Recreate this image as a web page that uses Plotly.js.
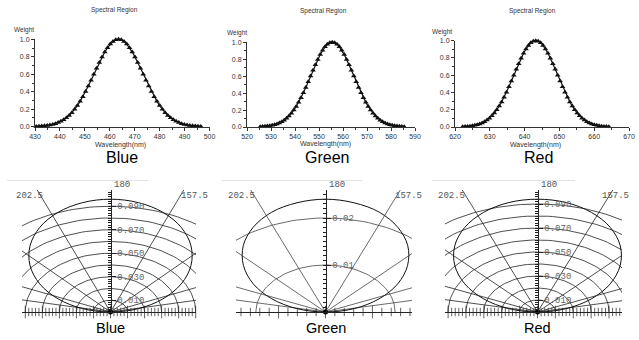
<!DOCTYPE html>
<html><head><meta charset="utf-8">
<script src="https://cdn.plot.ly/plotly-3.0.1.min.js"></script>
<style>html,body{margin:0;padding:0;background:#fff}#chart{width:639px;height:340px}</style>
</head><body><div id="chart"></div>
<script>
// ---------- Spectral region data (wavelength nm, weight) ----------
const blueWavelength = [430.5,431.6,432.7,433.8,434.9,436.0,437.1,438.2,439.3,440.4,441.5,442.6,443.7,444.8,445.9,447.0,448.1,449.2,450.3,451.4,452.5,453.6,454.7,455.8,456.9,458.0,459.1,460.2,461.3,462.4,463.5,464.6,465.7,466.8,467.9,469.0,470.1,471.2,472.3,473.4,474.5,475.6,476.7,477.8,478.9,480.0,481.1,482.2,483.3,484.4,485.5,486.6,487.7,488.8,489.9,491.0,492.1,493.2,494.3,495.4,496.5];
const blueWeight = [0.003,0.005,0.007,0.010,0.014,0.019,0.026,0.035,0.047,0.062,0.080,0.102,0.129,0.161,0.199,0.242,0.290,0.344,0.403,0.466,0.532,0.600,0.668,0.734,0.797,0.854,0.904,0.945,0.975,0.994,1.000,0.994,0.975,0.945,0.904,0.854,0.797,0.734,0.668,0.600,0.532,0.466,0.403,0.344,0.290,0.242,0.199,0.161,0.129,0.102,0.080,0.062,0.047,0.035,0.026,0.019,0.014,0.010,0.007,0.005,0.003];
const greenWavelength = [525.5,526.5,527.5,528.5,529.5,530.5,531.5,532.5,533.5,534.5,535.5,536.5,537.5,538.5,539.5,540.5,541.5,542.5,543.5,544.5,545.5,546.5,547.5,548.5,549.5,550.5,551.5,552.5,553.5,554.5,555.5,556.5,557.5,558.5,559.5,560.5,561.5,562.5,563.5,564.5,565.5,566.5,567.5,568.5,569.5,570.5,571.5,572.5,573.5,574.5,575.5,576.5,577.5,578.5,579.5,580.5,581.5,582.5,583.5,584.5,585.5];
const greenWeight = [0.004,0.005,0.008,0.011,0.015,0.020,0.027,0.036,0.048,0.063,0.081,0.103,0.130,0.162,0.200,0.243,0.291,0.345,0.404,0.467,0.533,0.601,0.669,0.735,0.798,0.855,0.905,0.946,0.976,0.995,1.000,0.995,0.976,0.946,0.905,0.855,0.798,0.735,0.669,0.601,0.533,0.467,0.404,0.345,0.291,0.243,0.200,0.162,0.130,0.103,0.081,0.063,0.048,0.036,0.027,0.020,0.015,0.011,0.008,0.005,0.004];
const redWavelength = [622.2,622.9,623.6,624.3,625.0,625.7,626.4,627.1,627.8,628.5,629.2,629.9,630.6,631.3,632.0,632.7,633.4,634.1,634.8,635.5,636.2,636.9,637.6,638.3,639.0,639.7,640.4,641.1,641.8,642.5,643.2,643.9,644.6,645.3,646.0,646.7,647.4,648.1,648.8,649.5,650.2,650.9,651.6,652.3,653.0,653.7,654.4,655.1,655.8,656.5,657.2,657.9,658.6,659.3,660.0,660.7,661.4,662.1,662.8,663.5,664.2];
const redWeight = [0.003,0.005,0.007,0.010,0.014,0.019,0.026,0.035,0.047,0.062,0.080,0.102,0.129,0.161,0.199,0.242,0.290,0.344,0.403,0.466,0.532,0.600,0.668,0.734,0.797,0.854,0.904,0.945,0.975,0.994,1.000,0.994,0.975,0.945,0.904,0.854,0.797,0.734,0.668,0.600,0.532,0.466,0.403,0.344,0.290,0.242,0.199,0.161,0.129,0.102,0.080,0.062,0.047,0.035,0.026,0.019,0.014,0.010,0.007,0.005,0.003];
const blueRange = [430, 500];
const greenRange = [520, 590];
const redRange = [620, 670];

// ---------- Angular distribution data (angle deg, intensity) ----------
const polarAngles = [90,100,110,120,130,140,150,160,170,180,190,200,210,220,230,240,250,260,270];
const blueIntensity = [0,0.0167,0.0328,0.048,0.0617,0.0735,0.0831,0.0902,0.0945,0.096,0.0945,0.0902,0.0831,0.0735,0.0617,0.048,0.0328,0.0167,0];
const greenIntensity = [0,0.0042,0.0082,0.012,0.0154,0.0184,0.0208,0.0226,0.0236,0.024,0.0236,0.0226,0.0208,0.0184,0.0154,0.012,0.0082,0.0042,0];
const redIntensity = [0,0.0163,0.0321,0.047,0.0604,0.0720,0.0814,0.0883,0.0926,0.094,0.0926,0.0883,0.0814,0.0720,0.0604,0.047,0.0321,0.0163,0];
const blueGridRadii = [0.01,0.02,0.03,0.04,0.05,0.06,0.07,0.08,0.09];
const greenGridRadii = [0.01,0.02];
const redGridRadii = [0.01,0.02,0.03,0.04,0.05,0.06,0.07,0.08,0.09];
const blueRadialTicks = [0.010,0.030,0.050,0.070,0.090];
const greenRadialTicks = [0.01,0.02];
const redRadialTicks = [0.010,0.030,0.050,0.070,0.090];
const spokeAngles = [101.25,112.5,135,157.5,202.5,225,247.5,258.75];
const angleLabels = ['202.5','180','157.5'];
const panelNames = ['Blue','Green','Red'];

// ---------- drawing ----------
const W = 639, H = 340;
const fx = p => p / W;
const fy = p => 1 - p / H;
const sans = 'Liberation Sans, Arial, sans-serif';
const mono = 'Liberation Mono, Courier New, monospace';
const data = [];
const layout = {width:W, height:H, margin:{l:0,r:0,t:0,b:0}, paper_bgcolor:'#fff', plot_bgcolor:'rgba(0,0,0,0)',
  showlegend:false, annotations:[], shapes:[]};

function note(text, x, y, size, family, color, xanchor) {
  layout.annotations.push({text:text, x:fx(x), y:fy(y), xref:'paper', yref:'paper', showarrow:false,
    xanchor:xanchor||'center', yanchor:'middle', font:{size:size, family:family, color:color}});
}

function addSpectrum(n, xs, ys, xr, cfg, name) {
  const sx = n === 1 ? '' : String(n);
  data.push({type:'scatter', x:xs, y:ys, xaxis:'x'+sx, yaxis:'y'+sx, mode:'lines+markers',
    line:{color:'#111', width:1.2}, marker:{symbol:'triangle-up', size:5, color:'#111'}, cliponaxis:false, hoverinfo:'skip'});
  const tf = {family:sans, size:7, color:'#333'};
  layout['xaxis'+sx] = {domain:[fx(cfg.l), fx(cfg.r)], range:xr, anchor:'y'+sx, tickmode:'linear', tick0:xr[0], dtick:10,
    ticks:'outside', ticklen:3, tickcolor:'#333', minor:{tickmode:'linear', tick0:xr[0], dtick:5, ticks:'outside', ticklen:2, tickcolor:'#333'},
    showline:true, linecolor:'#333', linewidth:1, showgrid:false, zeroline:false, tickfont:tf, fixedrange:true};
  layout['yaxis'+sx] = {domain:[fy(cfg.b), fy(cfg.t)], range:[0,1], anchor:'x'+sx, tickmode:'linear', tick0:0, dtick:0.2, tickformat:'.1f',
    ticks:'outside', ticklen:3, tickcolor:'#333', minor:{tickmode:'linear', tick0:0, dtick:0.1, ticks:'outside', ticklen:2, tickcolor:'#333'},
    showline:true, linecolor:'#333', linewidth:1, showgrid:false, zeroline:false, tickfont:tf, fixedrange:true};
  note('Spectral Region', cfg.title[0], cfg.title[1], 6.5, sans, '#333');
  note('Weight', cfg.weight[0], cfg.weight[1], 6.5, sans, '#333');
  note('Wavelength(nm)', cfg.wl[0], cfg.wl[1], 7, sans, '#333');
  note(name, cfg.name[0], cfg.name[1], 16, sans, '#000');
}

const OY = 312, TOP = 190;
function toXY(r, a) { const p = (a - 180) * Math.PI / 180; return [-r * Math.sin(p), r * Math.cos(p)]; }

function addPolar(n, angles, intensity, gridR, tickVals, tickFmt, minorStep, crossStep, cfg, name) {
  const xa = 'x'+n, ya = 'y'+n;
  const kx = cfg.ky * cfg.s;
  const xr = [(cfg.L - cfg.ox) / kx, (cfg.R - cfg.ox) / kx];
  const yTop = (OY - TOP) / cfg.ky;
  // grid arcs
  const gx = [], gy = [];
  gridR.forEach(r => { for (let a = 90; a <= 270; a += 2) { const p = toXY(r, a); gx.push(p[0]); gy.push(p[1]); } gx.push(null); gy.push(null); });
  data.push({type:'scatter', x:gx, y:gy, xaxis:xa, yaxis:ya, mode:'lines', line:{color:cfg.grid, width:0.8}, hoverinfo:'skip'});
  // spokes
  const sx = [], sy = [];
  spokeAngles.forEach(a => { const p = toXY(1, a); sx.push(0, p[0], null); sy.push(0, p[1], null); });
  data.push({type:'scatter', x:sx, y:sy, xaxis:xa, yaxis:ya, mode:'lines', line:{color:cfg.grid, width:0.8}, hoverinfo:'skip'});
  // intensity curve
  const ix = [], iy = [];
  angles.forEach((a, j) => { const p = toXY(intensity[j], a); ix.push(p[0]); iy.push(p[1]); });
  data.push({type:'scatter', x:ix, y:iy, xaxis:xa, yaxis:ya, mode:'lines', line:{color:'#111', width:1, shape:'spline'}, hoverinfo:'skip'});
  // baseline tick crosses
  const tx = [], ts = [];
  const kmax = Math.floor(Math.max(-xr[0], xr[1]) / crossStep + 1e-9);
  for (let k = -kmax; k <= kmax; k++) { const v = k * crossStep; if (v >= xr[0] && v <= xr[1]) { tx.push(v); ts.push(k % 5 === 0 ? 9 : 6); } }
  data.push({type:'scatter', x:tx, y:tx.map(() => 0), xaxis:xa, yaxis:ya, mode:'markers', cliponaxis:false,
    marker:{symbol:'line-ns', size:ts, line:{width:1, color:'#222'}}, hoverinfo:'skip'});
  // origin
  data.push({type:'scatter', x:[0], y:[0], xaxis:xa, yaxis:ya, mode:'markers', cliponaxis:false,
    marker:{symbol:'circle', size:5, color:'#000'}, hoverinfo:'skip'});
  layout['xaxis'+n] = {domain:[fx(cfg.L), fx(cfg.R)], range:xr, anchor:ya, showline:true, linecolor:'#222', linewidth:1,
    ticks:'', showticklabels:false, showgrid:false, zeroline:false, fixedrange:true};
  layout['yaxis'+n] = {domain:[fy(OY), fy(TOP)], range:[0, yTop], anchor:'free', position:fx(cfg.ox), side:'right',
    showline:true, linecolor:'#222', linewidth:1, showgrid:false, zeroline:false, tickmode:'array', tickvals:tickVals, tickformat:tickFmt,
    ticks:'outside', ticklen:4, tickcolor:'#222', tickfont:{family:mono, size:9, color:'#666'},
    minor:{tickmode:'linear', tick0:0, dtick:minorStep, ticks:'inside', ticklen:3, tickcolor:'#222', showgrid:false}, fixedrange:true};
  note(angleLabels[0], cfg.lab[0], 195.7, 9, mono, '#555');
  note(angleLabels[1], cfg.ox + 1.5, 185, 9, mono, '#555', 'left');
  note(angleLabels[2], cfg.lab[1], 195.7, 9, mono, '#555');
  note(name, cfg.ox, 328, 14.5, sans, '#000');
  layout.shapes.push({type:'line', xref:'paper', yref:'paper', x0:fx(cfg.line[0]), x1:fx(cfg.line[1]), y0:fy(180.5), y1:fy(180.5),
    line:{color:'#e2e2e2', width:1}});
}

addSpectrum(1, blueWavelength, blueWeight, blueRange,
  {l:35, r:209.5, t:39.3, b:126.7, title:[115,9.5], weight:[24,30], wl:[120,145], name:[122,157]}, panelNames[0]);
addSpectrum(2, greenWavelength, greenWeight, greenRange,
  {l:247, r:415, t:42.3, b:127, title:[323,10.5], weight:[237,33], wl:[325,144], name:[327,157]}, panelNames[1]);
addSpectrum(3, redWavelength, redWeight, redRange,
  {l:455, r:629, t:40.7, b:127, title:[532,10.5], weight:[442,31.5], wl:[535,145], name:[538,157]}, panelNames[2]);

addPolar(4, polarAngles, blueIntensity, blueGridRadii, blueRadialTicks, '.3f', 0.002, 0.002,
  {ox:110.5, L:22, R:196, ky:1175, s:1.45, grid:'#222', lab:[29,194], line:[7,148]}, panelNames[0]);
addPolar(5, polarAngles, greenIntensity, greenGridRadii, greenRadialTicks, '.2f', 0.001, 0.00135,
  {ox:325.5, L:236, R:412, ky:4700, s:1.48, grid:'#444', lab:[241,408], line:[222,362]}, panelNames[1]);
addPolar(6, polarAngles, redIntensity, redGridRadii, redRadialTicks, '.3f', 0.002, 0.002,
  {ox:537.5, L:445, R:622, ky:1200, s:1.49, grid:'#222', lab:[451.5,615], line:[432,575]}, panelNames[2]);

Plotly.newPlot('chart', data, layout, {staticPlot:true, displayModeBar:false});
</script></body></html>
